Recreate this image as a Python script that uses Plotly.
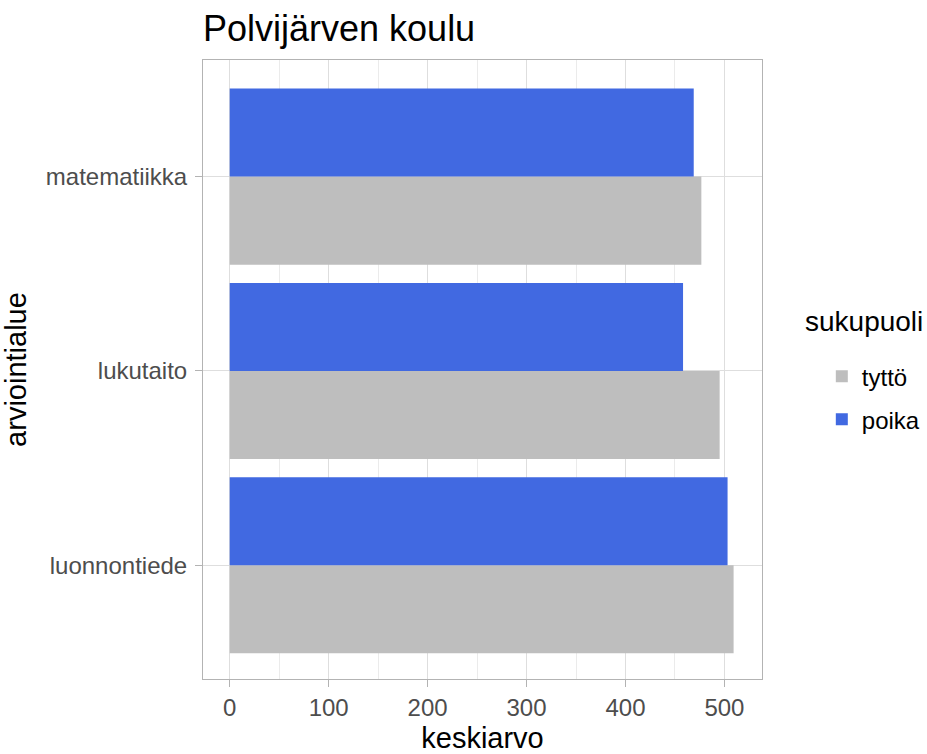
import plotly.graph_objects as go

categories = ["matematiikka", "lukutaito", "luonnontiede"]
tytto = [476.7, 495.2, 509.3]
poika = [469.0, 458.2, 503.2]
x_ticks = [0, 100, 200, 300, 400, 500]

W, H = 960, 754
L, T, PW, PH = 203, 60, 559, 619

fig = go.Figure()
fig.add_trace(go.Bar(y=categories, x=tytto, name="tyttö", orientation="h",
                     marker=dict(color="#BEBEBE", line=dict(width=0)), legendgroup="t"))
fig.add_trace(go.Bar(y=categories, x=poika, name="poika", orientation="h",
                     marker=dict(color="#4169E1", line=dict(width=0)), legendgroup="p"))

fig.update_layout(
    width=W, height=H,
    margin=dict(l=L, r=W - L - PW, t=T, b=H - T - PH, pad=0),
    paper_bgcolor="white", plot_bgcolor="white",
    font=dict(family="Liberation Sans, Arial, sans-serif", color="#000000"),
    barmode="group", bargap=0.094, bargroupgap=0,
    title=dict(text="Polvijärven koulu", x=L / W, xanchor="left",
               y=1 - 28 / H, yanchor="middle", font=dict(size=36, color="black")),
    showlegend=True,
    legend=dict(font=dict(size=24), x=1.107, xanchor="left", y=0.525, yanchor="top",
                traceorder="grouped", tracegroupgap=9),
    annotations=[dict(text="sukupuoli", xref="paper", yref="paper", x=1.074, y=0.577,
                      xanchor="left", yanchor="middle", showarrow=False,
                      font=dict(size=28, color="black"))],
)
fig.update_xaxes(
    range=[-27, 538], tickvals=x_ticks, ticktext=[str(v) for v in x_ticks],
    showgrid=True, gridcolor="#DEDEDE", gridwidth=1,
    minor=dict(dtick=50, tick0=0, showgrid=True, gridcolor="#EBEBEB", gridwidth=1),
    zeroline=False, showline=True, mirror=True, linecolor="#B3B3B3", linewidth=1,
    ticks="outside", ticklen=7, tickcolor="#B3B3B3", ticklabelstandoff=0,
    tickfont=dict(size=24, color="#4D4D4D"), automargin=False,
    title=dict(text="keskiarvo", font=dict(size=29), standoff=14),
)
fig.update_yaxes(
    categoryorder="array", categoryarray=categories[::-1], range=[-0.585, 2.6],
    showgrid=True, gridcolor="#DEDEDE", gridwidth=1,
    zeroline=False, showline=True, mirror=True, linecolor="#B3B3B3", linewidth=1,
    ticks="outside", ticklen=7, tickcolor="#B3B3B3", ticklabelstandoff=3,
    tickfont=dict(size=24, color="#4D4D4D"), automargin=False,
    title=dict(text="arviointialue", font=dict(size=29), standoff=12),
)

fig.write_html("out.html", config={"displayModeBar": False},
               post_script="document.body.style.margin='0px';document.body.style.overflow='hidden';")
